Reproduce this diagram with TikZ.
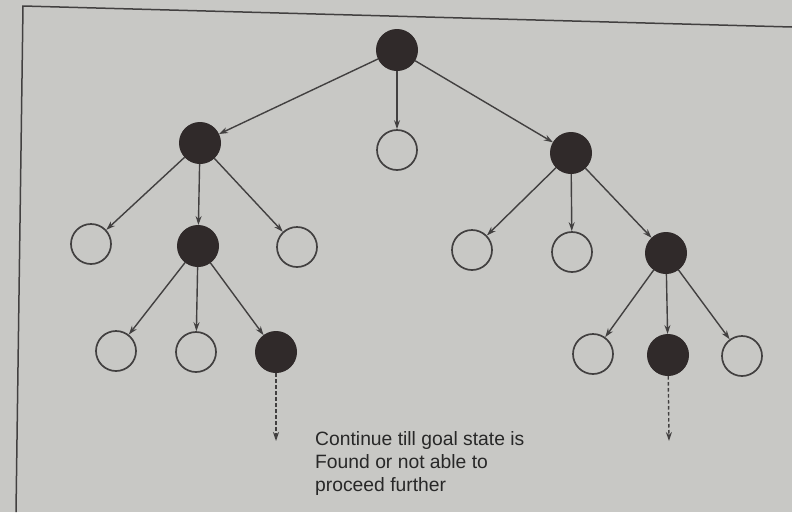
\documentclass[tikz,border=0pt]{standalone}
\usepackage{fontspec}
\setmainfont{Liberation Sans}
\usetikzlibrary{arrows.meta}
\definecolor{paper}{RGB}{200,200,197}
\definecolor{ink}{RGB}{66,64,64}
\definecolor{dot}{RGB}{48,42,42}
\definecolor{print}{RGB}{40,40,40}
\begin{document}
\begin{tikzpicture}[x=1pt,y=-1pt,
  visited/.style={circle,fill=dot,draw=dot,line width=1pt,minimum size=41pt,inner sep=0pt},
  unvisited/.style={circle,fill=paper,draw=ink,line width=1.7pt,minimum size=40pt,inner sep=0pt},
  edge/.style={draw=ink,line width=1.4pt,-{Stealth[length=9pt,width=6pt]}},
  further/.style={edge,dash pattern=on 3.5pt off 2.5pt}]
% page and frame
\fill[paper] (0,0) rectangle (792,512);
\useasboundingbox (0,0) rectangle (792,512);
\draw[ink, line width=1.5pt] (16,512) -- (23,6) -- (792,27);

% search tree
\node[visited]   (r)   at (397,50)  {};
\node[visited]   (a)   at (200,143) {};
\node[unvisited] (b)   at (397,150) {};
\node[visited]   (c)   at (571,153) {};
\node[unvisited] (a1)  at (91,244)  {};
\node[visited]   (a2)  at (198,246) {};
\node[unvisited] (a3)  at (297,247) {};
\node[unvisited] (c1)  at (472,250) {};
\node[unvisited] (c2)  at (572,252) {};
\node[visited]   (c3)  at (666,253) {};
\node[unvisited] (a21) at (116,351) {};
\node[unvisited] (a22) at (196,352) {};
\node[visited]   (a23) at (276,352) {};
\node[unvisited] (c31) at (593,354) {};
\node[visited]   (c32) at (668,355) {};
\node[unvisited] (c33) at (742,356) {};
\coordinate (e1) at (276,441);
\coordinate (e2) at (669,441);

\foreach \p/\q in {r/a,r/b,r/c,a/a1,a/a2,a/a3,c/c1,c/c2,c/c3,
                   a2/a21,a2/a22,a2/a23,c3/c31,c3/c32,c3/c33}
  \draw[edge] (\p) -- (\q);
\draw[further] (a23) -- (e1);
\draw[further] (c32) -- (e2);

\node[anchor=north west, align=left, inner sep=0pt, text=print,
      font=\fontsize{19.3}{23}\selectfont] (note) at (315,431)
  {Continue till goal state is\\Found or not able to\\proceed further};
\end{tikzpicture}
\end{document}
